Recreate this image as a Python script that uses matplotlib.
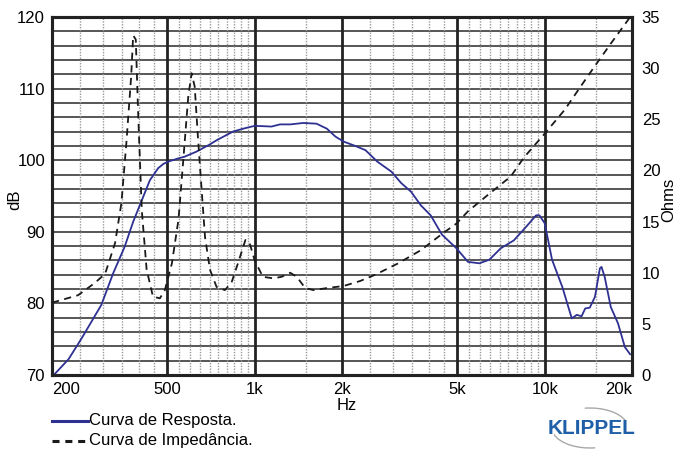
import numpy as np
import matplotlib.pyplot as plt
from matplotlib.patches import Arc
from matplotlib.lines import Line2D

# frequency response (Hz, dB)
resp_f = [205, 228, 252, 275, 296, 325, 356, 381, 408, 435, 465, 485, 503, 540, 574, 630,
          700, 740, 842, 912, 1000, 1143, 1222, 1327, 1470, 1634, 1774, 1898, 2026, 2220,
          2410, 2648, 2960, 3201, 3460, 3740, 4043, 4424, 4961, 5437, 5955, 6443, 7055,
          7826, 8629, 9342, 9590, 10000, 10600, 11500, 12400, 12900, 13400, 13800, 14300,
          14900, 15500, 15700, 16100, 16900, 17900, 18900, 19700]
resp_db = [70.2, 72.2, 75.0, 77.6, 79.8, 84.2, 87.9, 91.4, 94.4, 97.2, 98.9, 99.5, 99.8, 100.2,
           100.5, 101.2, 102.2, 102.8, 104.0, 104.4, 104.8, 104.7, 105.0, 105.0, 105.2, 105.1,
           104.4, 103.3, 102.6, 102.0, 101.4, 99.8, 98.4, 96.8, 95.6, 93.7, 92.3, 89.6, 87.7,
           85.8, 85.6, 86.1, 87.7, 88.8, 90.7, 92.3, 92.3, 91.2, 86.1, 82.3, 77.9, 78.4, 78.2,
           79.3, 79.4, 80.9, 84.9, 85.1, 83.7, 79.5, 77.2, 73.9, 72.9]

# impedance (Hz, Ohms)
imp_f = [200, 246, 281, 305, 330, 347, 361, 375, 381, 389, 396, 408, 424, 446, 471, 490, 518,
         546, 566, 590, 606, 621, 637, 649, 674, 701, 739, 789, 831, 875, 929, 958, 1000, 1067,
         1159, 1238, 1325, 1397, 1493, 1596, 1774, 2026, 2316, 2602, 3116, 3740, 4477, 4960,
         5437, 6364, 7633, 8500, 10000, 11700, 13300, 14800, 16900, 19600]
imp_ohm = [7.07, 7.8, 9.0, 9.9, 12.9, 16.8, 22.7, 29.2, 33.2, 32.8, 25.9, 16.1, 10.3, 7.65, 7.5,
           8.3, 10.9, 15.2, 20.7, 27.2, 29.5, 28.2, 23.3, 20.0, 13.5, 10.3, 8.6, 8.3, 9.0, 10.9,
           13.2, 13.0, 11.2, 9.6, 9.45, 9.6, 10.0, 9.6, 8.5, 8.3, 8.5, 8.7, 9.2, 9.8, 10.9, 12.2,
           13.9, 14.8, 16.0, 17.6, 19.4, 21.3, 23.6, 25.9, 28.2, 30.1, 32.4, 34.9]

x_ticks = [200, 500, 1000, 2000, 5000, 10000, 20000]
x_labels = ['200', '500', '1k', '2k', '5k', '10k', '20k']
thick_lines = [500, 1000, 2000, 5000, 10000]
dotted_lines = ([250, 300, 350, 400, 450] + list(range(550, 1000, 50)) + [1500]
                + list(range(2500, 5000, 500)) + list(range(5500, 10000, 500)) + [15000])

BLUE = '#2e3192'
W, H = 677, 450

plt.rcParams['font.family'] = ['Liberation Sans', 'DejaVu Sans']

fig = plt.figure(figsize=(6.77, 4.5), dpi=100)
ax = fig.add_axes([52/W, 1 - 375/H, 580/W, 358/H])
ax.set_xscale('log')
ax.set_xlim(200, 20000)
ax.set_ylim(70, 120)

for y in np.arange(72, 120, 2):
    ax.axhline(y, color='#3a3a3a', lw=1.2, zorder=1)
for f in dotted_lines:
    ax.axvline(f, color='#9a9a9a', lw=1.0, ls=(0, (1, 1)), zorder=1)
for f in thick_lines:
    ax.axvline(f, color='#222222', lw=2.0, zorder=1)

ax.plot(resp_f, resp_db, color=BLUE, lw=1.3, zorder=3)

ax2 = ax.twinx()
ax2.set_ylim(0, 35)
ax2.plot(imp_f, imp_ohm, color='#1a1a1a', lw=1.3, ls=(0, (4, 3)), zorder=3)

ax.set_xticks(x_ticks)
ax.set_xticklabels(x_labels)
ax.xaxis.set_minor_locator(plt.NullLocator())
ax.set_yticks(range(70, 121, 10))
ax2.set_yticks(range(0, 36, 5))
ax.tick_params(length=0, labelsize=12, pad=5)
ax2.tick_params(length=0, labelsize=12, pad=7)
labs = ax.get_xticklabels()
labs[0].set_ha('left')
labs[-1].set_ha('right')

for a in (ax, ax2):
    for s in a.spines.values():
        s.set_linewidth(2.2)
        s.set_color('#222222')

ax.set_xlabel('Hz', fontsize=12, va='center')
ax.xaxis.set_label_coords((347 - 52) / 580, (375 - 405) / 358)
ax.set_ylabel('dB', fontsize=12, va='center')
ax.yaxis.set_label_coords((15 - 52) / 580, (375 - 200) / 358)
ax2.set_ylabel('Ohms', fontsize=12, rotation=90, va='center')
ax2.yaxis.set_label_coords((669 - 52) / 580, (375 - 200) / 358)

# legend
fig.add_artist(Line2D([52/W, 88/W], [1 - 421/H] * 2, color=BLUE, lw=2.2))
fig.text(89/W, 1 - 421/H, 'Curva de Resposta.', fontsize=12, va='center')
fig.add_artist(Line2D([52/W, 88/W], [1 - 441/H] * 2, color='#1a1a1a', lw=2.2,
                      ls=(0, (2.3, 1.9))))
fig.text(89/W, 1 - 441/H, 'Curva de Impedância.', fontsize=12, va='center')

# logo
fig.text(592/W, 1 - 428/H, 'KLIPPEL', color='#1f5fa8', fontsize=15, fontweight='bold',
         ha='center', va='center')
fig.add_artist(Arc((590/W, 1 - 428/H), 76/W, 40/H, theta1=15, theta2=100,
                   color='#a8a8a8', lw=1.0, transform=fig.transFigure))
fig.add_artist(Arc((590/W, 1 - 428/H), 76/W, 40/H, theta1=195, theta2=280,
                   color='#a8a8a8', lw=1.0, transform=fig.transFigure))

fig.savefig('out.png', dpi=100)
